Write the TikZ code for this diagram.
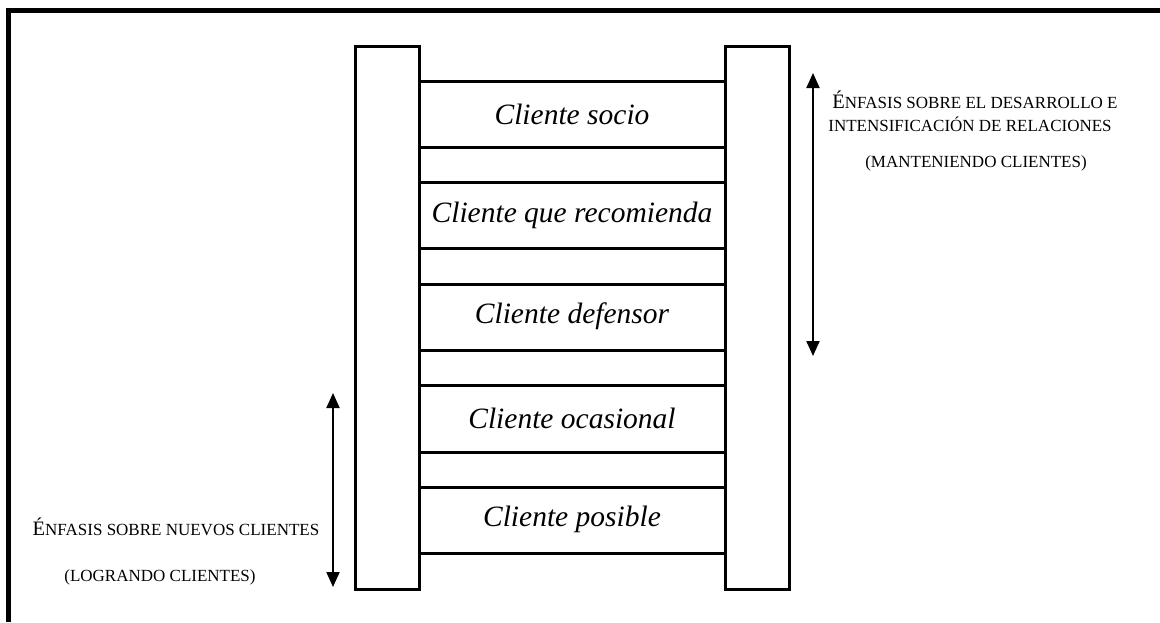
\documentclass[tikz,border=0pt]{standalone}
\usepackage{fontspec}
\setmainfont{Liberation Serif}
\usetikzlibrary{arrows.meta}
\newcommand\capE{{\fontsize{20.5}{20}\selectfont É}}
\tikzset{
  pillar/.style={draw, line width=3pt, minimum width=64pt, minimum height=543pt, inner sep=0pt, outer sep=0pt},
  rung/.style={line width=3pt},
  frameline/.style={line width=5pt},
  lbl/.style={font=\fontsize{29.5}{30}\selectfont\itshape, inner sep=0pt},
  sclbl/.style={font=\fontsize{17}{18}\selectfont, inner sep=0pt},
  dbl/.style={line width=2pt, {Triangle[width=13pt,length=15pt]}-{Triangle[width=13pt,length=15pt]}},
}
\begin{document}
\begin{tikzpicture}[x=1pt,y=-1pt]
\useasboundingbox (0,0) rectangle (1160,622);
\fill[white] (0,0) rectangle (1160,622);
% outer frame (left and top only)
\coordinate (fc) at (8,10);
\coordinate (fb) at (8,622);
\coordinate (fr) at (1160,10);
\draw[frameline] (fb) -- (fc) -- (fr);
% pillars
\node[pillar] (L) at (387,317.5) {};
\node[pillar] (R) at (757,317.5) {};
% rungs
\foreach \y in {81,147,182,248,284,350,385,452,487,553}{
  \draw[rung] (L.east |- 0,\y) -- (R.west |- 0,\y);
}
% labels
\node[lbl] (s1) at (572,114) {Cliente socio};
\node[lbl] (s2) at (572,215) {Cliente que recomienda};
\node[lbl] (s3) at (572,316) {Cliente defensor};
\node[lbl] (s4) at (572,418) {Cliente ocasional};
\node[lbl] (s5) at (572,519) {Cliente posible};
% right arrow and text
\coordinate (ra) at (813,73);
\coordinate (rb) at (813,356);
\draw[dbl] (ra) -- (rb);
\node[sclbl] (r1) at (975,100) {\capE NFASIS SOBRE EL DESARROLLO E};
\node[sclbl] (r2) at (970,124) {INTENSIFICACIÓN DE RELACIONES};
\node[sclbl] (r3) at (976,163) {(MANTENIENDO CLIENTES)};
% left arrow and text
\coordinate (la) at (333,393);
\coordinate (lb) at (333,587);
\draw[dbl] (la) -- (lb);
\node[sclbl] (l1) at (176,527) {\capE NFASIS SOBRE NUEVOS CLIENTES};
\node[sclbl] (l2) at (160,577) {(LOGRANDO CLIENTES)};
\end{tikzpicture}
\end{document}
